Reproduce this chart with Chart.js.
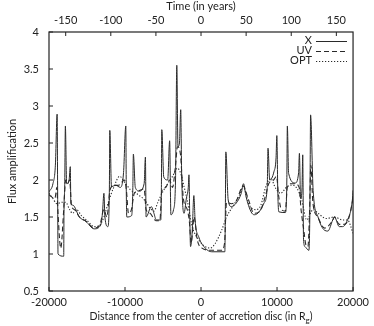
<!DOCTYPE html>
<html>
<head>
<meta charset="utf-8">
<script src="https://cdn.jsdelivr.net/npm/chart.js@4.4.0/dist/chart.umd.min.js"></script>
<style>
  html, body { margin: 0; padding: 0; background: #fff; }
  #wrap { width: 374px; height: 326px; }
</style>
</head>
<body>
<div id="wrap"><canvas id="flux-chart"></canvas></div>
<script>
// distance along the disc (R_g) and flux amplification
const xDist = [-20000, -19480, -19160, -18930, -18864, -18813, -18064, -18026, -17935, -17845, -17677, -17355, -17200, -17122, -16864, -16000, -15135, -14064, -13200, -12968, -12774, -12645, -12258, -12065, -12000, -11780, -11226, -10619, -10193, -9897, -9832, -9768, -9122, -8968, -8903, -8645, -8129, -7484, -7316, -7226, -6542, -6194, -5897, -5290, -5213, -5161, -4903, -4387, -4129, -3961, -3613, -3355, -3187, -3032, -2839, -2671, -2542, -2232, -1935, -1677, -1587, -1484, -1381, -1161, -942, -774, -297, 555, 1419, 3135, 3200, 3264, 3574, 4000, 4645, 5290, 5587, 5935, 6581, 7006, 7652, 8297, 8710, 8813, 9032, 9587, 9871, 9974, 10103, 10232, 11097, 11290, 11355, 11523, 12387, 12839, 12942, 13097, 13290, 13381, 13484, 13677, 14193, 14323, 14413, 14748, 15394, 16258, 16684, 17329, 17548, 18193, 18619, 19265, 19910, 20000];
const xFlux = [1.84, 1.95, 2.2, 2.89, 1.85, 1.0, 0.97, 1.6, 1.9, 2.73, 1.95, 2.0, 2.18, 1.68, 1.66, 1.5, 1.44, 1.34, 1.39, 1.55, 1.82, 1.5, 1.37, 1.8, 2.67, 1.91, 1.93, 1.9, 2.1, 2.73, 1.85, 1.5, 1.52, 1.9, 2.35, 1.9, 1.85, 1.95, 2.31, 1.5, 1.64, 1.55, 1.46, 1.46, 1.9, 2.68, 2.04, 2.0, 2.53, 1.53, 1.6, 2.0, 3.55, 2.45, 2.5, 2.95, 2.04, 1.55, 1.75, 1.9, 2.07, 1.5, 1.1, 1.3, 1.79, 1.45, 1.23, 1.08, 1.03, 1.03, 1.6, 2.38, 1.73, 1.64, 1.69, 1.82, 1.95, 1.77, 1.57, 1.53, 1.57, 1.69, 1.9, 2.43, 2.0, 2.11, 2.3, 2.6, 1.82, 1.57, 1.56, 2.0, 2.73, 2.09, 1.96, 2.1, 2.36, 1.75, 1.9, 2.34, 1.2, 1.1, 1.05, 1.6, 2.88, 1.86, 1.5, 1.32, 1.31, 1.46, 1.5, 1.37, 1.37, 1.46, 1.73, 1.86];

const uvDist = [-20000, -19226, -18968, -18839, -18452, -18064, -17806, -17548, -17290, -17032, -16645, -16000, -15097, -14064, -13290, -12774, -12387, -12000, -11613, -10839, -10064, -9806, -9548, -9161, -8774, -8258, -7484, -7226, -6710, -5935, -5419, -5161, -4645, -4129, -3742, -3355, -3097, -2710, -2323, -1806, -1548, -1290, -903, -516, 129, 1419, 2710, 3097, 3355, 4000, 4645, 5548, 6194, 6968, 7871, 8516, 8903, 9548, 9935, 10194, 10581, 11097, 11355, 11871, 12387, 12903, 13161, 13548, 13806, 14064, 14258, 14452, 14710, 15355, 16258, 17290, 17548, 18194, 18839, 19484, 20000];
const uvFlux = [1.8, 1.75, 1.9, 1.6, 1.08, 1.6, 2.0, 1.95, 2.0, 1.65, 1.6, 1.5, 1.44, 1.35, 1.4, 1.6, 1.5, 1.85, 1.92, 1.93, 2.0, 1.85, 1.55, 1.6, 1.82, 1.85, 1.88, 1.6, 1.55, 1.45, 1.45, 1.85, 1.9, 2.0, 1.9, 2.2, 2.45, 2.35, 1.75, 1.6, 1.45, 1.15, 1.5, 1.2, 1.08, 1.05, 1.05, 1.15, 1.7, 1.68, 1.72, 1.92, 1.75, 1.55, 1.6, 1.8, 1.95, 2.0, 2.05, 1.8, 1.6, 1.58, 1.9, 1.95, 1.95, 1.9, 1.6, 1.3, 1.12, 1.1, 1.5, 2.2, 1.7, 1.5, 1.35, 1.45, 1.5, 1.4, 1.4, 1.5, 1.75];

const optDist = [-20000, -19484, -18968, -18323, -17806, -17290, -16903, -16387, -15742, -14968, -14064, -13419, -12774, -12129, -11484, -10710, -10065, -9290, -8258, -7355, -6710, -6194, -5677, -5032, -4387, -3742, -3097, -2710, -2232, -1806, -1161, -297, 555, 1200, 1845, 2710, 3355, 4219, 5071, 5510, 6361, 7226, 7871, 8516, 9161, 9806, 10452, 11316, 11961, 12606, 13252, 13897, 14748, 15394, 16477, 17548, 18619, 19265, 20000];
const optFlux = [1.82, 1.75, 1.68, 1.7, 1.7, 1.6, 1.55, 1.6, 1.52, 1.45, 1.37, 1.38, 1.5, 1.72, 1.9, 2.05, 1.97, 1.87, 1.8, 1.72, 1.62, 1.58, 1.7, 1.84, 1.95, 2.05, 2.16, 2.1, 1.91, 1.72, 1.37, 1.19, 1.1, 1.08, 1.14, 1.32, 1.5, 1.65, 1.8, 1.91, 1.66, 1.6, 1.66, 1.91, 2.02, 1.89, 1.82, 1.91, 1.93, 1.89, 1.73, 1.46, 1.6, 1.55, 1.48, 1.5, 1.46, 1.46, 1.28];

const distTicks = [-20000, -10000, 0, 10000, 20000];
const fluxTicks = [0.5, 1, 1.5, 2, 2.5, 3, 3.5, 4];
const timeTicks = [-150, -100, -50, 0, 50, 100, 150];
const timeRange = [-168.5, 168.5];

const FONT = { family: "Lato, 'Liberation Sans', sans-serif", size: 11 };
const INK = "#222";

function points(xs, ys) {
  return xs.map(function (x, i) { return { x: x, y: ys[i] }; });
}

function fixedTicks(values) {
  return function (scale) {
    scale.ticks = values.map(function (v) { return { value: v }; });
  };
}

// gnuplot style: frame plus short inward ticks
const framePlugin = {
  id: "frame",
  afterDraw(chart) {
    const { ctx, chartArea: a, scales } = chart;
    const len = 4;
    ctx.save();
    ctx.strokeStyle = INK;
    ctx.lineWidth = 1.2;
    ctx.strokeRect(a.left, a.top, a.right - a.left, a.bottom - a.top);
    ctx.lineWidth = 1;
    ctx.beginPath();
    scales.y.ticks.forEach(function (t) {
      const y = scales.y.getPixelForValue(t.value);
      ctx.moveTo(a.left, y);
      ctx.lineTo(a.left + len, y);
    });
    scales.x.ticks.forEach(function (t) {
      const x = scales.x.getPixelForValue(t.value);
      ctx.moveTo(x, a.bottom);
      ctx.lineTo(x, a.bottom - len);
    });
    scales.x2.ticks.forEach(function (t) {
      const x = scales.x2.getPixelForValue(t.value);
      ctx.moveTo(x, a.top);
      ctx.lineTo(x, a.top + len);
    });
    ctx.stroke();

    // bottom title, with subscript g
    const size = 10.5;
    ctx.fillStyle = INK;
    ctx.textBaseline = "middle";
    ctx.font = size + "px " + FONT.family;
    const main = "Distance from the center of accretion disc (in R";
    const wMain = ctx.measureText(main).width;
    const wClose = ctx.measureText(")").width;
    ctx.font = "8px " + FONT.family;
    const wSub = ctx.measureText("g").width;
    const total = wMain + wSub + wClose;
    const x = (a.left + a.right) / 2 - total / 2;
    const y = 317;
    ctx.font = size + "px " + FONT.family;
    ctx.textAlign = "left";
    ctx.fillText(main, x, y);
    ctx.font = "8px " + FONT.family;
    ctx.fillText("g", x + wMain, y + 3);
    ctx.font = size + "px " + FONT.family;
    ctx.fillText(")", x + wMain + wSub, y);
    ctx.restore();
  },
};

// key in the top right corner: label, then line sample
const keyPlugin = {
  id: "key",
  afterDatasetsDraw(chart) {
    const { ctx } = chart;
    ctx.save();
    ctx.font = FONT.size + "px " + FONT.family;
    ctx.fillStyle = INK;
    ctx.textAlign = "right";
    ctx.textBaseline = "middle";
    chart.data.datasets.forEach(function (ds, i) {
      const y = 40.5 + i * 10.2;
      ctx.fillText(ds.label, 312, y);
      ctx.strokeStyle = ds.borderColor;
      ctx.lineWidth = ds.borderWidth;
      ctx.setLineDash(ds.borderDash || []);
      ctx.beginPath();
      ctx.moveTo(316, Math.round(y) + 0.5);
      ctx.lineTo(347, Math.round(y) + 0.5);
      ctx.stroke();
    });
    ctx.restore();
  },
};

new Chart(document.getElementById("flux-chart"), {
  type: "line",
  data: {
    datasets: [
      { label: "X", data: points(xDist, xFlux), borderColor: "#2a2a2a", borderWidth: 1, borderDash: [] },
      { label: "UV", data: points(uvDist, uvFlux), borderColor: "#2a2a2a", borderWidth: 1.1, borderDash: [5, 3] },
      { label: "OPT", data: points(optDist, optFlux), borderColor: "#2a2a2a", borderWidth: 1.1, borderDash: [1.2, 1.8] },
    ],
  },
  options: {
    responsive: true,
    maintainAspectRatio: false,
    animation: false,
    devicePixelRatio: 1,
    layout: { padding: { left: 0, right: 15, top: 0, bottom: 0 } },
    elements: {
      point: { radius: 0 },
      line: { tension: 0, cubicInterpolationMode: "monotone" },
    },
    plugins: {
      legend: { display: false },
      tooltip: { enabled: false },
    },
    scales: {
      x: {
        type: "linear",
        position: "bottom",
        min: -20000,
        max: 20000,
        afterBuildTicks: fixedTicks(distTicks),
        afterFit(scale) { scale.height = 35; },
        grid: { display: false, drawTicks: false },
        border: { display: false },
        ticks: {
          font: FONT,
          color: INK,
          padding: 5,
          maxRotation: 0,
          autoSkip: false,
          callback: function (v) { return String(v); },
        },
      },
      x2: {
        type: "linear",
        axis: "x",
        position: "top",
        min: timeRange[0],
        max: timeRange[1],
        afterBuildTicks: fixedTicks(timeTicks),
        afterFit(scale) { scale.height = 32; },
        grid: { display: false, drawTicks: false },
        border: { display: false },
        title: { display: true, text: "Time (in years)", font: FONT, color: INK, padding: 0 },
        ticks: {
          font: FONT,
          color: INK,
          padding: 5,
          maxRotation: 0,
          autoSkip: false,
          callback: function (v) { return String(v); },
        },
      },
      y: {
        type: "linear",
        position: "left",
        min: 0.5,
        max: 4,
        afterBuildTicks: fixedTicks(fluxTicks),
        afterFit(scale) { scale.width = 49; },
        grid: { display: false, drawTicks: false },
        border: { display: false },
        title: { display: true, text: "Flux amplification", font: FONT, color: INK, padding: { top: 6 } },
        ticks: {
          font: FONT,
          color: INK,
          padding: 10,
          callback: function (v) { return String(v); },
        },
      },
    },
  },
  plugins: [framePlugin, keyPlugin],
});
</script>
</body>
</html>
